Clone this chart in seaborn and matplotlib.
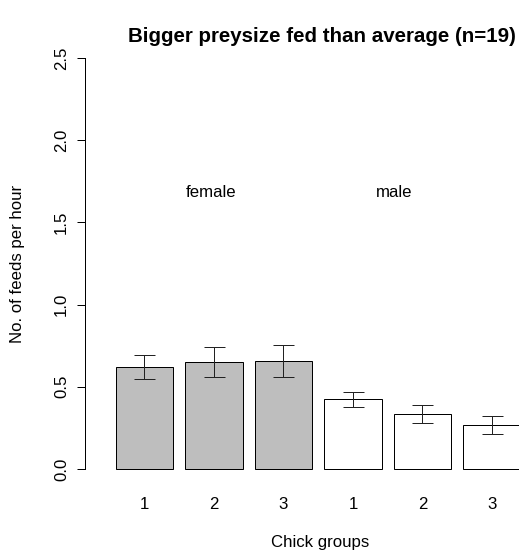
import matplotlib
matplotlib.use("Agg")
import matplotlib.pyplot as plt
import seaborn as sns
import pandas as pd

# Feeding rates per chick group, split by parent sex
groups = ["1", "2", "3", "1", "2", "3"]
sexes = ["female", "female", "female", "male", "male", "male"]
means = [0.62, 0.65, 0.657, 0.425, 0.335, 0.266]
errors = [0.075, 0.09, 0.097, 0.045, 0.055, 0.055]
bar_colors = ["#BEBEBE", "#BEBEBE", "#BEBEBE", "white", "white", "white"]

df = pd.DataFrame({
    "key": [f"{s} {g}" for s, g in zip(sexes, groups)],
    "group": groups,
    "sex": sexes,
    "mean": means,
    "err": errors,
})

sns.set_style("white")
plt.rcParams["font.family"] = ["Liberation Sans", "DejaVu Sans"]
plt.rcParams["text.color"] = "black"
plt.rcParams["axes.labelcolor"] = "black"
plt.rcParams["xtick.color"] = "black"
plt.rcParams["ytick.color"] = "black"

FS = 16.8
W, H = 519, 556
fig = plt.figure(figsize=(W / 72, H / 72), dpi=72)
top_px, bot_px, left_px, right_px = 41.6, 485.4, 85, 519
ax = fig.add_axes([left_px / W, 1 - bot_px / H,
                   (right_px - left_px) / W, (bot_px - top_px) / H])

sns.barplot(data=df, x="key", y="mean", hue="key", palette=bar_colors,
            legend=False, width=1 / 1.2, edgecolor="black", linewidth=1,
            errorbar=None, ax=ax)

xpos = list(range(len(df)))
ax.errorbar(xpos, df["mean"], yerr=df["err"], fmt="none", ecolor="#222222",
            elinewidth=1, capsize=10.5, capthick=1)

ax.set_xlim(-0.856, 5.389)
ax.set_ylim(-0.1, 2.6)
ax.set_xticks(xpos)
ax.set_xticklabels(groups, fontsize=FS)
ax.tick_params(axis="x", length=0, pad=12)
ax.set_yticks([0.0, 0.5, 1.0, 1.5, 2.0, 2.5])
ax.set_yticklabels(["0.0", "0.5", "1.0", "1.5", "2.0", "2.5"], fontsize=FS,
                   rotation=90, va="center")
ax.tick_params(axis="y", length=8, width=1, pad=8, left=True)

for side in ["top", "right", "bottom"]:
    ax.spines[side].set_visible(False)
ax.spines["left"].set_bounds(0, 2.5)
ax.spines["left"].set_color("black")
ax.spines["left"].set_linewidth(1)

ax.set_xlabel("Chick groups", fontsize=FS)
ax.xaxis.set_label_coords((320 - left_px) / (right_px - left_px),
                          (bot_px - 543) / (bot_px - top_px))
ax.xaxis.label.set_va("center")
ax.set_ylabel("No. of feeds per hour", fontsize=FS)
ax.yaxis.set_label_coords((18 - left_px) / (right_px - left_px), 0.5)
ax.yaxis.label.set_va("center")

ax.text(0.957, 1.68, "female", ha="center", va="center", fontsize=FS)
ax.text(3.59, 1.68, "male", ha="center", va="center", fontsize=FS)

fig.text(321.5 / W, 1 - 37 / H, "Bigger preysize fed than average (n=19)",
         ha="center", va="center", fontsize=20.5, fontweight="bold")

fig.savefig("out.png", dpi=72, facecolor="white")
